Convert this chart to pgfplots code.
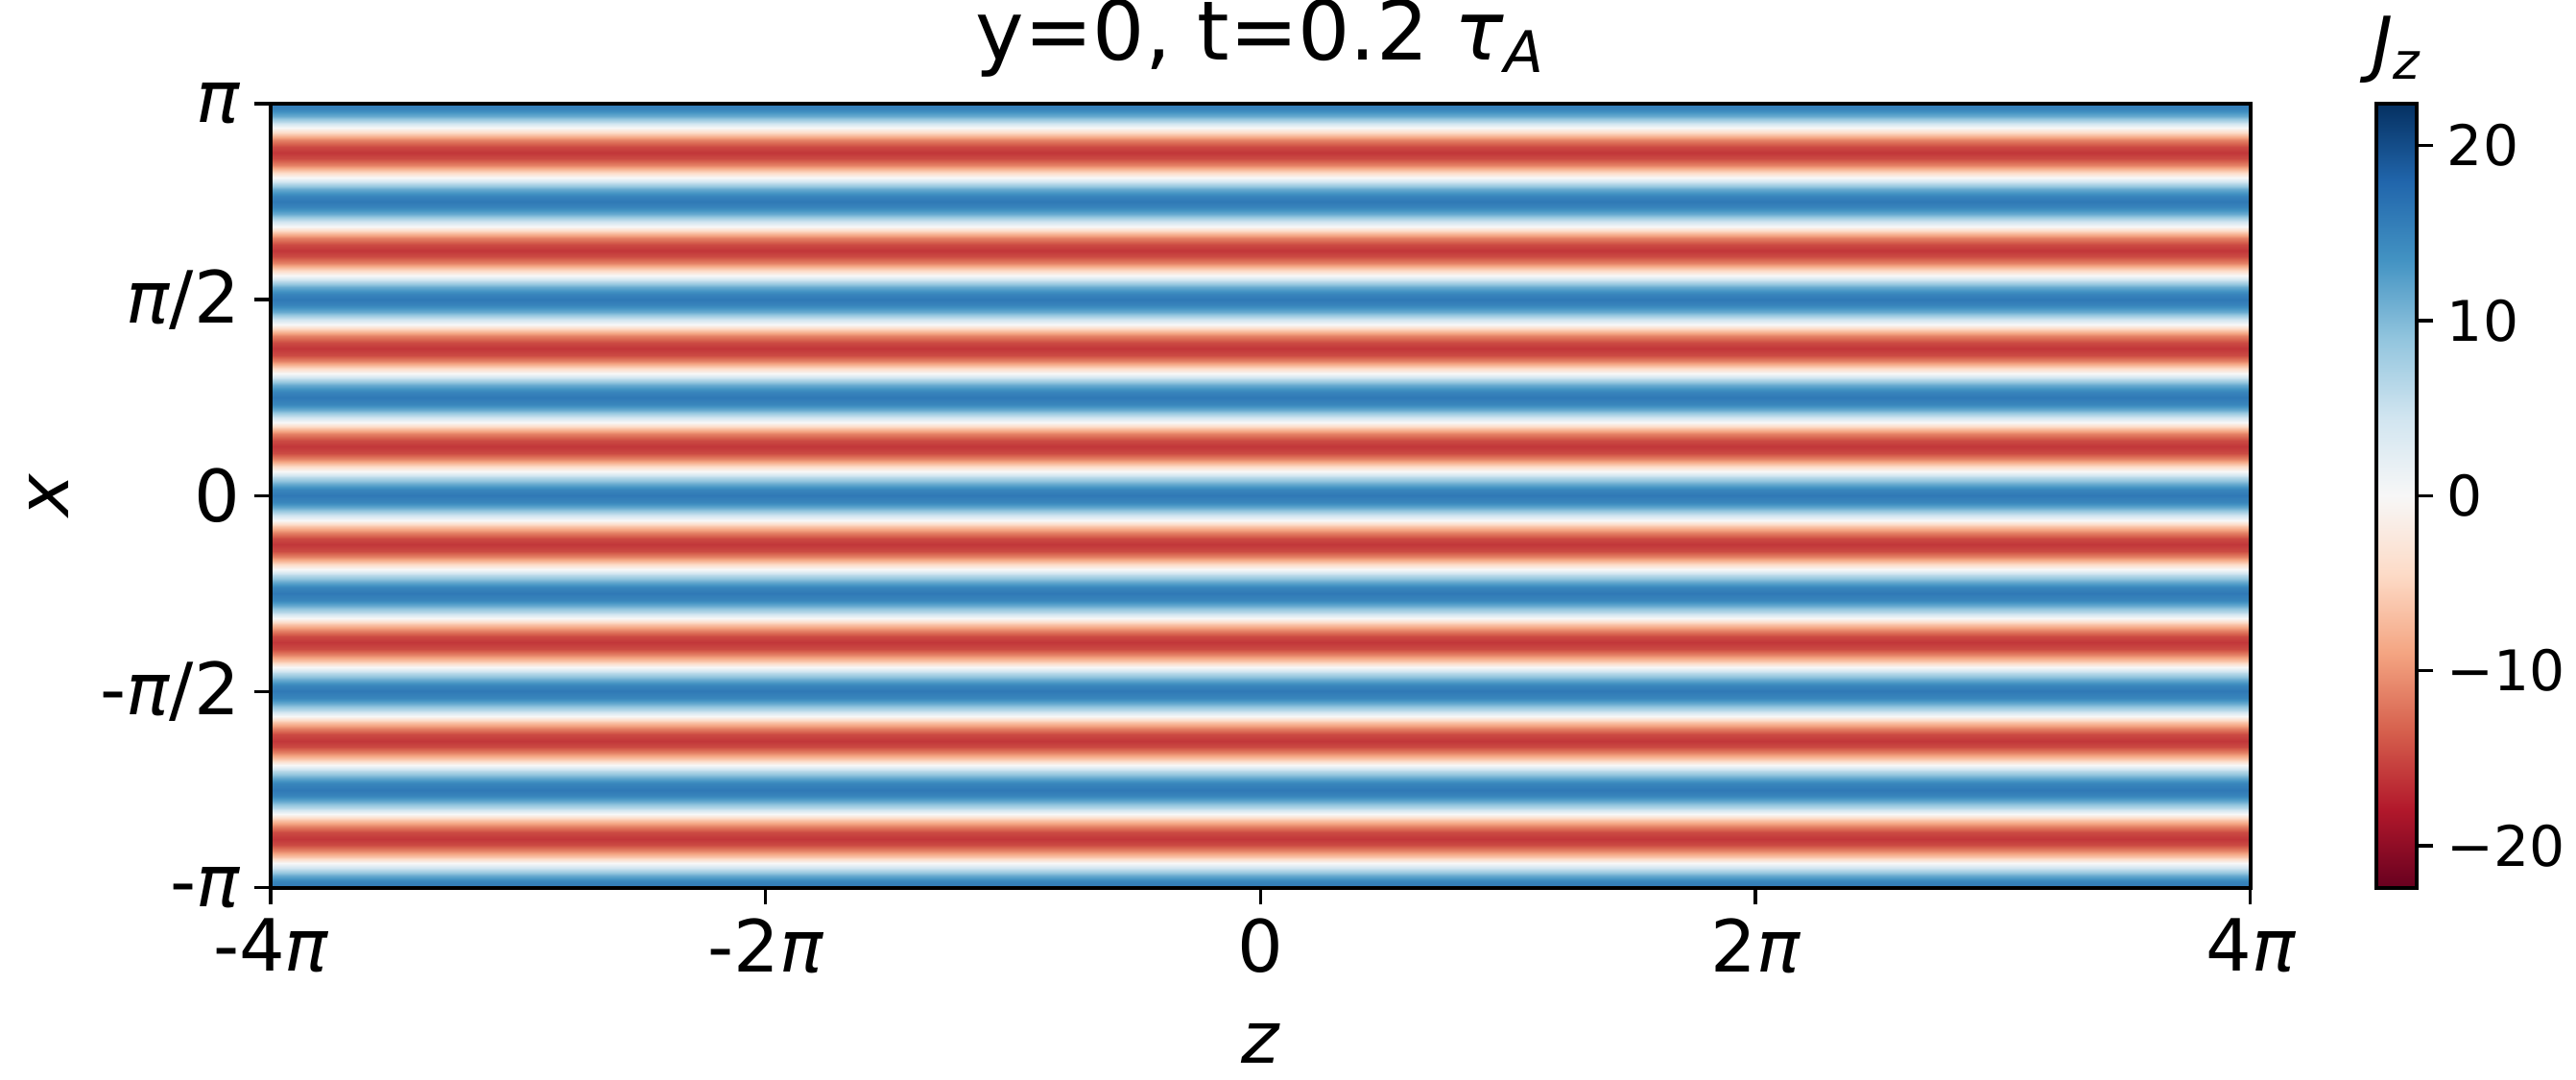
\documentclass[border=0pt]{standalone}
\usepackage{fontspec}
\setmainfont{DejaVu Sans}
\usepackage{pgfplots}
\pgfplotsset{compat=1.18}
\pgfplotsset{colormap={RdBu}{rgb255=(103,0,31) rgb255=(178,24,43) rgb255=(214,96,77) rgb255=(244,165,130) rgb255=(253,219,199) rgb255=(247,247,247) rgb255=(209,229,240) rgb255=(146,197,222) rgb255=(67,147,195) rgb255=(33,102,172) rgb255=(5,48,97)}}
\newcommand\p{{\itshape π}}
\begin{document}
\begin{tikzpicture}[font=\fontsize{18}{21}\selectfont]
\begin{axis}[
  name=main,
  scale only axis,
  width=495pt, height=196pt,
  xmin=-4, xmax=4, ymin=-64, ymax=64,
  enlargelimits=false,
  axis on top,
  colormap name=RdBu,
  point meta min=-22.4, point meta max=22.4,
  axis line style={line width=1pt},
  tick style={line width=0.8pt, black},
  tick align=outside,
  major tick length=4.2pt,
  xtick={-4,-2,0,2,4},
  xticklabels={-4\p,-2\p,0,2\p,4\p},
  ytick={-64,-32,0,32,64},
  yticklabels={-\p,-\p/2,0,\p/2,\p},
  xtick pos=bottom, ytick pos=left,
  xlabel={\itshape z},
  ylabel={\itshape x},
  xlabel style={at={(0.5,0)}, anchor=center, yshift=-38.9pt},
  ylabel style={at={(0,0.5)}, anchor=center, yshift=55.5pt},
  title={y=0, t=0.2 {\itshape τ}\textsubscript{\itshape A}},
  title style={at={(0.5,1)}, anchor=south, yshift=-2.8pt, font=\fontsize{20.5}{24}\selectfont},
  colorbar,
  colorbar shift/.style={xshift=31.5pt},
  colorbar style={
    width=10pt,
    height=196pt,
    at={(parent axis.north east)}, anchor=north west,
    ytick={-20,-10,0,10,20},
    yticklabels={−20,−10,0,10,20},
    yticklabel pos=right,
    ytick pos=right,
    tick align=outside,
    major tick length=4.2pt,
    tick style={line width=0.8pt, black},
    axis line style={line width=1pt},
    yticklabel style={font=\fontsize{14}{16}\selectfont},
    title={{\itshape J}\textsubscript{\itshape z}},
    title style={at={(0.5,1)}, anchor=south, yshift=-4.5pt, font=\fontsize{18}{21}\selectfont},
  },
]
\addplot[surf, shader=interp, point meta=explicit, mesh/cols=2]
table[x=z, y=k, meta=J, row sep=\\] {
z k J\\
-4 -64 16\\ 4 -64 16\\
-4 -63 14.78\\ 4 -63 14.78\\
-4 -62 11.31\\ 4 -62 11.31\\
-4 -61 6.12\\ 4 -61 6.12\\
-4 -60 0\\ 4 -60 0\\
-4 -59 -6.12\\ 4 -59 -6.12\\
-4 -58 -11.31\\ 4 -58 -11.31\\
-4 -57 -14.78\\ 4 -57 -14.78\\
-4 -56 -16\\ 4 -56 -16\\
-4 -55 -14.78\\ 4 -55 -14.78\\
-4 -54 -11.31\\ 4 -54 -11.31\\
-4 -53 -6.12\\ 4 -53 -6.12\\
-4 -52 0\\ 4 -52 0\\
-4 -51 6.12\\ 4 -51 6.12\\
-4 -50 11.31\\ 4 -50 11.31\\
-4 -49 14.78\\ 4 -49 14.78\\
-4 -48 16\\ 4 -48 16\\
-4 -47 14.78\\ 4 -47 14.78\\
-4 -46 11.31\\ 4 -46 11.31\\
-4 -45 6.12\\ 4 -45 6.12\\
-4 -44 0\\ 4 -44 0\\
-4 -43 -6.12\\ 4 -43 -6.12\\
-4 -42 -11.31\\ 4 -42 -11.31\\
-4 -41 -14.78\\ 4 -41 -14.78\\
-4 -40 -16\\ 4 -40 -16\\
-4 -39 -14.78\\ 4 -39 -14.78\\
-4 -38 -11.31\\ 4 -38 -11.31\\
-4 -37 -6.12\\ 4 -37 -6.12\\
-4 -36 0\\ 4 -36 0\\
-4 -35 6.12\\ 4 -35 6.12\\
-4 -34 11.31\\ 4 -34 11.31\\
-4 -33 14.78\\ 4 -33 14.78\\
-4 -32 16\\ 4 -32 16\\
-4 -31 14.78\\ 4 -31 14.78\\
-4 -30 11.31\\ 4 -30 11.31\\
-4 -29 6.12\\ 4 -29 6.12\\
-4 -28 0\\ 4 -28 0\\
-4 -27 -6.12\\ 4 -27 -6.12\\
-4 -26 -11.31\\ 4 -26 -11.31\\
-4 -25 -14.78\\ 4 -25 -14.78\\
-4 -24 -16\\ 4 -24 -16\\
-4 -23 -14.78\\ 4 -23 -14.78\\
-4 -22 -11.31\\ 4 -22 -11.31\\
-4 -21 -6.12\\ 4 -21 -6.12\\
-4 -20 0\\ 4 -20 0\\
-4 -19 6.12\\ 4 -19 6.12\\
-4 -18 11.31\\ 4 -18 11.31\\
-4 -17 14.78\\ 4 -17 14.78\\
-4 -16 16\\ 4 -16 16\\
-4 -15 14.78\\ 4 -15 14.78\\
-4 -14 11.31\\ 4 -14 11.31\\
-4 -13 6.12\\ 4 -13 6.12\\
-4 -12 0\\ 4 -12 0\\
-4 -11 -6.12\\ 4 -11 -6.12\\
-4 -10 -11.31\\ 4 -10 -11.31\\
-4 -9 -14.78\\ 4 -9 -14.78\\
-4 -8 -16\\ 4 -8 -16\\
-4 -7 -14.78\\ 4 -7 -14.78\\
-4 -6 -11.31\\ 4 -6 -11.31\\
-4 -5 -6.12\\ 4 -5 -6.12\\
-4 -4 0\\ 4 -4 0\\
-4 -3 6.12\\ 4 -3 6.12\\
-4 -2 11.31\\ 4 -2 11.31\\
-4 -1 14.78\\ 4 -1 14.78\\
-4 0 16\\ 4 0 16\\
-4 1 14.78\\ 4 1 14.78\\
-4 2 11.31\\ 4 2 11.31\\
-4 3 6.12\\ 4 3 6.12\\
-4 4 0\\ 4 4 0\\
-4 5 -6.12\\ 4 5 -6.12\\
-4 6 -11.31\\ 4 6 -11.31\\
-4 7 -14.78\\ 4 7 -14.78\\
-4 8 -16\\ 4 8 -16\\
-4 9 -14.78\\ 4 9 -14.78\\
-4 10 -11.31\\ 4 10 -11.31\\
-4 11 -6.12\\ 4 11 -6.12\\
-4 12 0\\ 4 12 0\\
-4 13 6.12\\ 4 13 6.12\\
-4 14 11.31\\ 4 14 11.31\\
-4 15 14.78\\ 4 15 14.78\\
-4 16 16\\ 4 16 16\\
-4 17 14.78\\ 4 17 14.78\\
-4 18 11.31\\ 4 18 11.31\\
-4 19 6.12\\ 4 19 6.12\\
-4 20 0\\ 4 20 0\\
-4 21 -6.12\\ 4 21 -6.12\\
-4 22 -11.31\\ 4 22 -11.31\\
-4 23 -14.78\\ 4 23 -14.78\\
-4 24 -16\\ 4 24 -16\\
-4 25 -14.78\\ 4 25 -14.78\\
-4 26 -11.31\\ 4 26 -11.31\\
-4 27 -6.12\\ 4 27 -6.12\\
-4 28 0\\ 4 28 0\\
-4 29 6.12\\ 4 29 6.12\\
-4 30 11.31\\ 4 30 11.31\\
-4 31 14.78\\ 4 31 14.78\\
-4 32 16\\ 4 32 16\\
-4 33 14.78\\ 4 33 14.78\\
-4 34 11.31\\ 4 34 11.31\\
-4 35 6.12\\ 4 35 6.12\\
-4 36 0\\ 4 36 0\\
-4 37 -6.12\\ 4 37 -6.12\\
-4 38 -11.31\\ 4 38 -11.31\\
-4 39 -14.78\\ 4 39 -14.78\\
-4 40 -16\\ 4 40 -16\\
-4 41 -14.78\\ 4 41 -14.78\\
-4 42 -11.31\\ 4 42 -11.31\\
-4 43 -6.12\\ 4 43 -6.12\\
-4 44 0\\ 4 44 0\\
-4 45 6.12\\ 4 45 6.12\\
-4 46 11.31\\ 4 46 11.31\\
-4 47 14.78\\ 4 47 14.78\\
-4 48 16\\ 4 48 16\\
-4 49 14.78\\ 4 49 14.78\\
-4 50 11.31\\ 4 50 11.31\\
-4 51 6.12\\ 4 51 6.12\\
-4 52 0\\ 4 52 0\\
-4 53 -6.12\\ 4 53 -6.12\\
-4 54 -11.31\\ 4 54 -11.31\\
-4 55 -14.78\\ 4 55 -14.78\\
-4 56 -16\\ 4 56 -16\\
-4 57 -14.78\\ 4 57 -14.78\\
-4 58 -11.31\\ 4 58 -11.31\\
-4 59 -6.12\\ 4 59 -6.12\\
-4 60 0\\ 4 60 0\\
-4 61 6.12\\ 4 61 6.12\\
-4 62 11.31\\ 4 62 11.31\\
-4 63 14.78\\ 4 63 14.78\\
-4 64 16\\ 4 64 16\\
};
\end{axis}
\pgfresetboundingbox
\path[use as bounding box] ([xshift=-67.7pt,yshift=-48pt]main.south west) rectangle ([xshift=81.4pt,yshift=25.9pt]main.north east);
\end{tikzpicture}
\end{document}
